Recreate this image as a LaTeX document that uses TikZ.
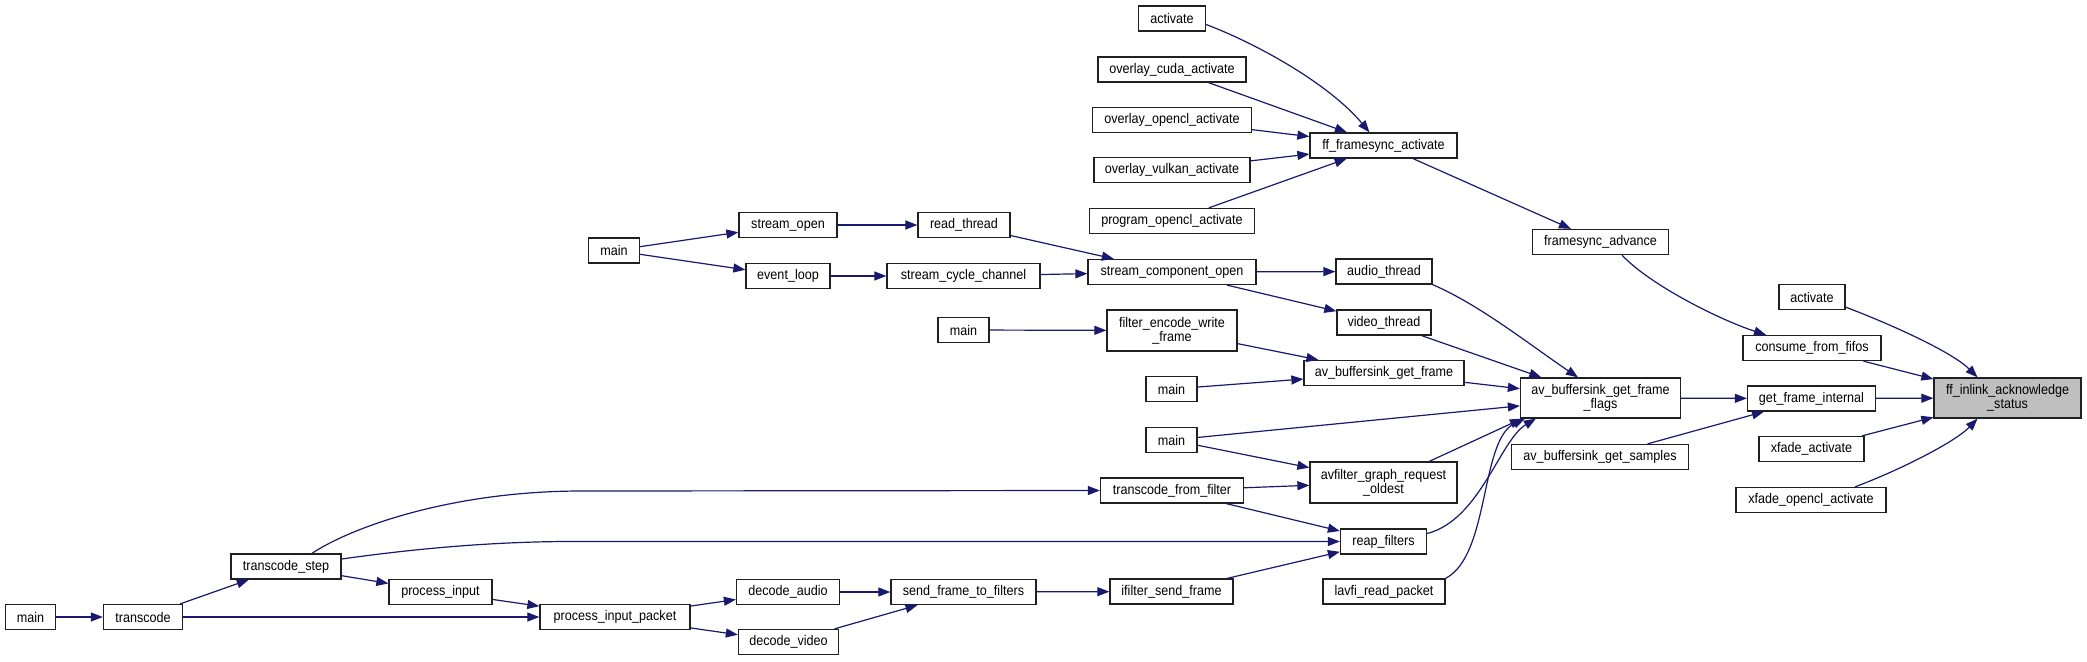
\documentclass[tikz,border=0pt]{standalone}
\usepackage{fontspec}
\setmainfont{Liberation Sans}[FakeStretch=0.9]
\usetikzlibrary{arrows.meta,calc}
\definecolor{edgec}{HTML}{191970}
\definecolor{hl}{HTML}{BFBFBF}
\definecolor{bord}{HTML}{202020}
\begin{document}
\begin{tikzpicture}[x=1pt,y=-1pt,
  box/.style={draw=bord,line width=1.3pt,fill=white,inner sep=0pt,minimum height=25pt,align=center,font=\fontsize{14}{14}\selectfont},
  box2/.style={box,minimum height=40pt},
  e/.style={draw=edgec,line width=1.2pt,-{Triangle[length=12pt,width=9pt]}}]
\fill[white] (0,0) rectangle (2087,661);
\useasboundingbox (0,0) rectangle (2087,661);
% nodes
\node[box,minimum width=67pt]  (act1)   at (1172,18.5) {activate};
\node[box,minimum width=148pt] (ocuda)  at (1172,69.5) {overlay\_cuda\_activate};
\node[box,minimum width=159pt] (oocl)   at (1172,120) {overlay\_opencl\_activate};
\node[box,minimum width=156pt] (ovk)    at (1172,170) {overlay\_vulkan\_activate};
\node[box,minimum width=165pt] (pocl)   at (1172,221) {program\_opencl\_activate};
\node[box,minimum width=147pt] (ffa)    at (1383.5,145.5) {ff\_framesync\_activate};
\node[box,minimum width=136pt] (fsadv)  at (1600.5,242) {framesync\_advance};
\node[box,minimum width=51pt]  (mainS)  at (614,250.5) {main};
\node[box,minimum width=98pt]  (sopen)  at (788,225) {stream\_open};
\node[box,minimum width=84pt]  (evloop) at (788,276) {event\_loop};
\node[box,minimum width=92pt]  (rthread) at (964,225) {read\_thread};
\node[box,minimum width=153pt] (scc)    at (963.5,276) {stream\_cycle\_channel};
\node[box,minimum width=168pt] (sco)    at (1172,272) {stream\_component\_open};
\node[box,minimum width=96pt]  (athread) at (1384,271.5) {audio\_thread};
\node[box,minimum width=94pt]  (vthread) at (1384,322.5) {video\_thread};
\node[box,minimum width=51pt]  (mainF)  at (963.5,330) {main};
\node[box2,minimum width=130pt,minimum height=41pt] (few) at (1172,330.5) {filter\_encode\_write\\\_frame};
\node[box,minimum width=160pt] (abgf)   at (1384,373) {av\_buffersink\_get\_frame};
\node[box,minimum width=51pt]  (main3)  at (1171.5,389) {main};
\node[box2,minimum width=160pt] (bgff)  at (1600.5,398) {av\_buffersink\_get\_frame\\\_flags};
\node[box,minimum width=51pt]  (main4)  at (1171.5,440) {main};
\node[box2,minimum width=147pt,minimum height=41pt] (agro) at (1383.5,482.5) {avfilter\_graph\_request\\\_oldest};
\node[box,minimum width=177pt] (bgfs)   at (1600,457) {av\_buffersink\_get\_samples};
\node[box,minimum width=66pt]  (act2)   at (1812,297) {activate};
\node[box,minimum width=138pt] (cff)    at (1812,348) {consume\_from\_fifos};
\node[box,minimum width=128pt] (gfi)    at (1811.5,398.5) {get\_frame\_internal};
\node[box2,minimum width=147pt,fill=hl] (ffi) at (2007.5,398) {ff\_inlink\_acknowledge\\\_status};
\node[box,minimum width=105pt] (xfa)    at (1811.5,449) {xfade\_activate};
\node[box,minimum width=150pt] (xfo)    at (1811,500) {xfade\_opencl\_activate};
\node[box,minimum width=143pt] (tff)    at (1172,490.5) {transcode\_from\_filter};
\node[box,minimum width=86pt]  (reap)   at (1383.5,541.5) {reap\_filters};
\node[box,minimum width=122pt] (lavfi)  at (1384,591.5) {lavfi\_read\_packet};
\node[box,minimum width=123pt] (ifsf)   at (1171.5,591.5) {ifilter\_send\_frame};
\node[box,minimum width=145pt] (sftf)   at (963.5,592) {send\_frame\_to\_filters};
\node[box,minimum width=103pt] (daud)   at (788,592) {decode\_audio};
\node[box,minimum width=100pt] (dvid)   at (788.5,642) {decode\_video};
\node[box,minimum width=150pt] (pip)    at (615,617) {process\_input\_packet};
\node[box,minimum width=103pt] (pin)    at (440.5,592) {process\_input};
\node[box,minimum width=110pt] (tstep)  at (286,566.5) {transcode\_step};
\node[box,minimum width=79pt]  (tcode)  at (143,617) {transcode};
\node[box,minimum width=50pt]  (mainL)  at (30.5,617) {main};
% edges
\draw[e] ($(act1.east)+(0,6)$) .. controls (1260,45) and (1330,85) .. ($(ffa.north)+(-14,0)$);
\draw[e] (ocuda) -- (ffa);
\draw[e] (oocl) -- (ffa);
\draw[e] (ovk) -- (ffa);
\draw[e] (pocl) -- (ffa);
\draw[e] (ffa) -- (fsadv);
\draw[e] ($(fsadv.south)+(21.5,0)$) .. controls (1650,285) and (1720,320) .. ($(cff.north)+(-46,0)$);
\draw[e] ($(act2.south east)+(0,-3)$) .. controls (1880,320) and (1950,350) .. ($(ffi.north)+(-30,0)$);
\draw[e] (cff) -- (ffi);
\draw[e] (gfi) -- (ffi);
\draw[e] (xfa) -- (ffi);
\draw[e] ($(xfo.north)+(44,0)$) .. controls (1900,470) and (1955,442) .. ($(ffi.south)+(-30,0)$);
\draw[e] (bgff) -- (gfi);
\draw[e] (bgfs) -- (gfi);
\draw[e] (athread.south east) .. controls (1480,305) and (1530,345) .. ($(bgff.north)+(-22.5,0)$);
\draw[e] (vthread) -- (bgff);
\draw[e] (abgf) -- (bgff);
\draw[e] (main4) -- (bgff);
\draw[e] (agro) -- ($(bgff.south west)+(2,0)$);
\draw[e] ($(reap.east)+(0,-8)$) .. controls (1480,520) and (1500,440) .. ($(bgff.south west)+(16,0)$);
\draw[e] (lavfi.north east) .. controls (1490,555) and (1480,440) .. ($(bgff.south west)+(5,0)$);
\draw[e] (mainS) -- (sopen);
\draw[e] (mainS) -- (evloop);
\draw[e] (sopen) -- (rthread);
\draw[e] (evloop) -- (scc);
\draw[e] (rthread) -- (sco);
\draw[e] (scc) -- (sco);
\draw[e] (sco) -- (athread);
\draw[e] (sco) -- (vthread);
\draw[e] (mainF) -- (few);
\draw[e] (few) -- (abgf);
\draw[e] (main3) -- (abgf);
\draw[e] (main4) -- (agro);
\draw[e] (tff) -- (agro);
\draw[e] (tff) -- (reap);
\draw[e] ($(tstep.north)+(26,0)$) .. controls (350,528) and (450,491) .. (582,491) -- (tff.west);
\draw[e] ($(tstep.east)+(0,-7.5)$) .. controls (420,548) and (500,541) .. (582,541.5) -- (reap.west);
\draw[e] (ifsf) -- (reap);
\draw[e] (sftf) -- (ifsf);
\draw[e] (daud) -- (sftf);
\draw[e] (dvid) -- (sftf);
\draw[e] (pip) -- (daud);
\draw[e] (pip) -- (dvid);
\draw[e] (pin) -- (pip);
\draw[e] (tstep) -- (pin);
\draw[e] (tcode) -- (tstep);
\draw[e] (tcode) -- (pip);
\draw[e] (mainL) -- (tcode);
\end{tikzpicture}
\end{document}
